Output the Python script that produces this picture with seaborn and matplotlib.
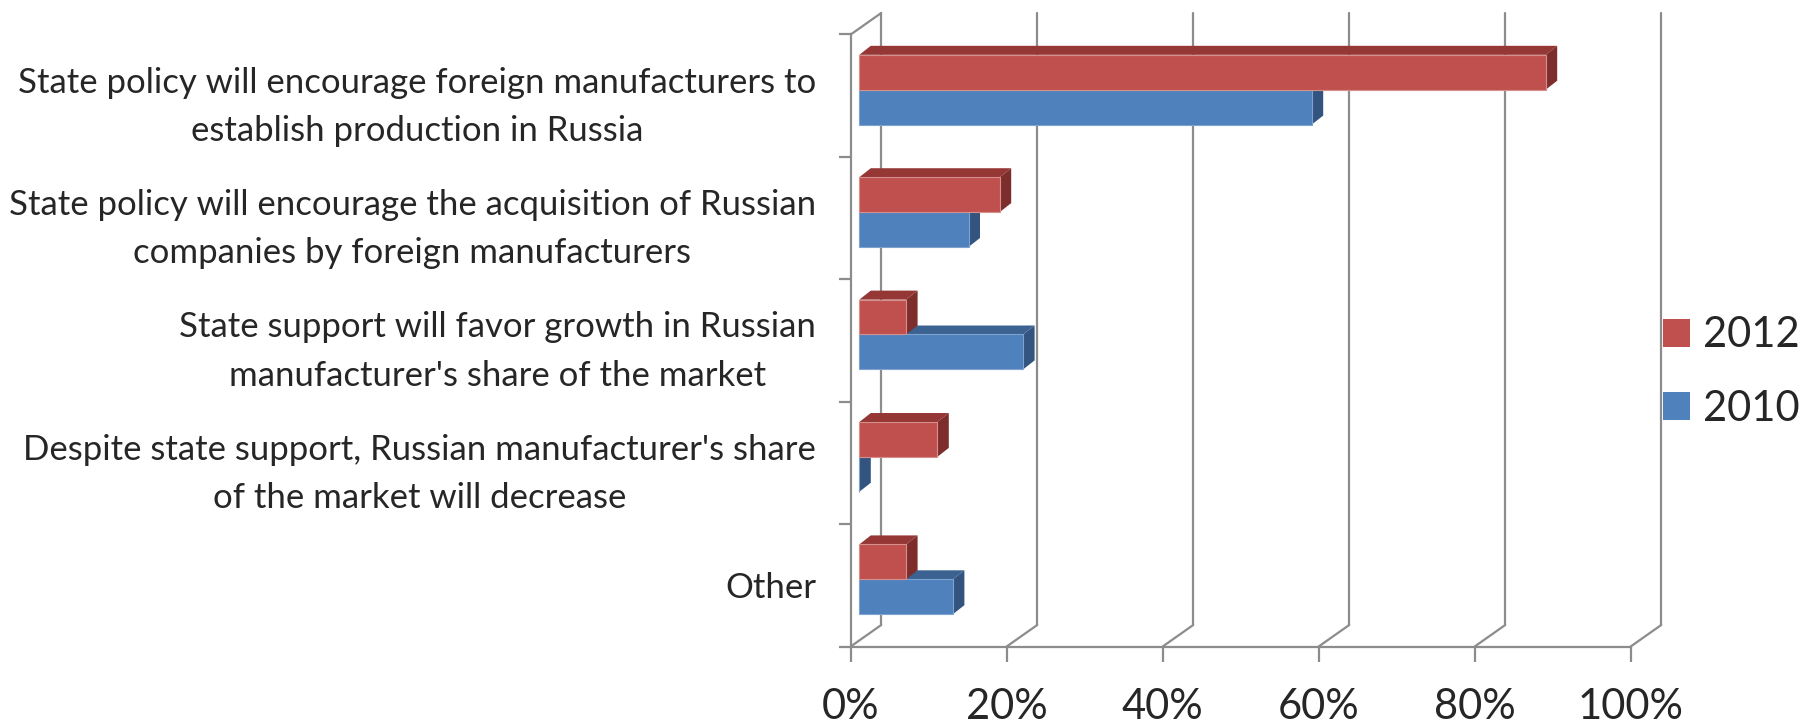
import matplotlib
matplotlib.use("Agg")
import matplotlib.pyplot as plt
from matplotlib.patches import Patch, Polygon
import seaborn as sns
import pandas as pd

statements = [
    "State policy will encourage foreign manufacturers to\nestablish production in Russia",
    "State policy will encourage the acquisition of Russian\ncompanies by foreign manufacturers",
    "State support will favor growth in Russian\nmanufacturer's share of the market",
    "Despite state support, Russian manufacturer's share\nof the market will decrease",
    "Other",
]
share_2012 = [88, 18, 6, 10, 6]
share_2010 = [58, 14, 21, 0, 12]
years = ["2012", "2010"]
x_ticks = [0, 20, 40, 60, 80, 100]
x_tick_labels = ["0%", "20%", "40%", "60%", "80%", "100%"]

RED, BLUE = "#C0504D", "#4F81BD"
# front colour -> (top face, side face, edge)
shade = {
    RED: ("#943735", "#7D2E2C", "#D58F8D"),
    BLUE: ("#3B6290", "#32547E", "#7FA3D1"),
}
GRID = "#8C8C8C"

df = pd.DataFrame({
    "statement": statements * 2,
    "share": share_2012 + share_2010,
    "year": [years[0]] * 5 + [years[1]] * 5,
})

sns.set_style("white")
plt.rcParams["font.family"] = ["Lato", "DejaVu Sans"]

W, H = 1803, 727
fig = plt.figure(figsize=(W / 100, H / 100), dpi=100)
ax = fig.add_axes([850.7 / W, (H - 646.5) / H, 780 / W, 612 / H])

sns.barplot(data=df, x="share", y="statement", hue="year", hue_order=years,
            palette={"2012": RED, "2010": BLUE}, saturation=1, width=0.57,
            orient="h", legend=False, ax=ax)
ax.set_xlim(0, 100)
ax.set_ylim(4.5, -0.5)

px_x = 780 / 100.0   # pixels per percent
px_y = 612 / 5.0     # pixels per category
# wall depth, bar offset and bar depth, in data units
wall_dx, wall_dy = 30.5 / px_x, -21.5 / px_y
bar_ox, bar_oy = 8.6 / px_x, -6.0 / px_y
bar_dx, bar_dy = 11.5 / px_x, -9.0 / px_y

# back wall gridlines and floor diagonals
for xv in x_ticks:
    ax.plot([xv + wall_dx] * 2, [4.5 + wall_dy, -0.5 + wall_dy], color=GRID,
            lw=1.6, clip_on=False, zorder=1)
    ax.plot([xv, xv + wall_dx], [4.5, 4.5 + wall_dy], color=GRID, lw=1.6,
            clip_on=False, zorder=1)
ax.plot([0, wall_dx], [-0.5, -0.5 + wall_dy], color=GRID, lw=1.6,
        clip_on=False, zorder=1)

# pseudo 3d bars: front face from seaborn, top and side faces added
for p in list(ax.patches):
    front = matplotlib.colors.to_hex(p.get_facecolor()).upper()
    top_c, side_c, edge_c = shade[front]
    x, y = p.get_x() + bar_ox, p.get_y() + bar_oy
    w, h = p.get_width(), p.get_height()
    p.set_x(x)
    p.set_y(y)
    z = 5 if front == RED else 3
    p.set_zorder(z)
    p.set_edgecolor(edge_c)
    p.set_linewidth(0.8)
    top = Polygon([(x, y), (x + w, y), (x + w + bar_dx, y + bar_dy), (x + bar_dx, y + bar_dy)],
                  closed=True, facecolor=top_c, edgecolor="none", zorder=z - 1)
    side = Polygon([(x + w, y), (x + w, y + h), (x + w + bar_dx, y + h + bar_dy),
                    (x + w + bar_dx, y + bar_dy)],
                   closed=True, facecolor=side_c, edgecolor="none", zorder=z - 1)
    ax.add_patch(top)
    ax.add_patch(side)

for side_name in ["top", "right"]:
    ax.spines[side_name].set_visible(False)
for side_name in ["left", "bottom"]:
    ax.spines[side_name].set_color(GRID)
    ax.spines[side_name].set_linewidth(1.6)

ax.set_xticks(x_ticks)
ax.set_xticklabels(x_tick_labels)
ax.set_yticks(range(len(statements)))
ax.set_yticklabels(statements, multialignment="center", linespacing=1.62)
ax.set_yticks([i - 0.5 for i in range(len(statements) + 1)], minor=True)
ax.tick_params(axis="x", which="major", bottom=True, length=10.8, width=1.6,
               color=GRID, pad=19, labelsize=30)
ax.tick_params(axis="y", which="major", left=True, length=0, pad=25, labelsize=25)
ax.tick_params(axis="y", which="minor", left=True, length=8.6, width=1.6, color=GRID)
ax.set_xlabel("")
ax.set_ylabel("")
ax.grid(False)
ax.set_facecolor("none")

handles = [Patch(facecolor=RED, edgecolor="none"), Patch(facecolor=BLUE, edgecolor="none")]
fig.legend(handles, years, loc="center left", bbox_to_anchor=(1663 / W, (H - 372) / H),
           frameon=False, fontsize=30, handlelength=0.65, handleheight=0.65,
           handletextpad=0.32, labelspacing=0.85, borderpad=0, borderaxespad=0)

fig.savefig("out.png", dpi=100)
